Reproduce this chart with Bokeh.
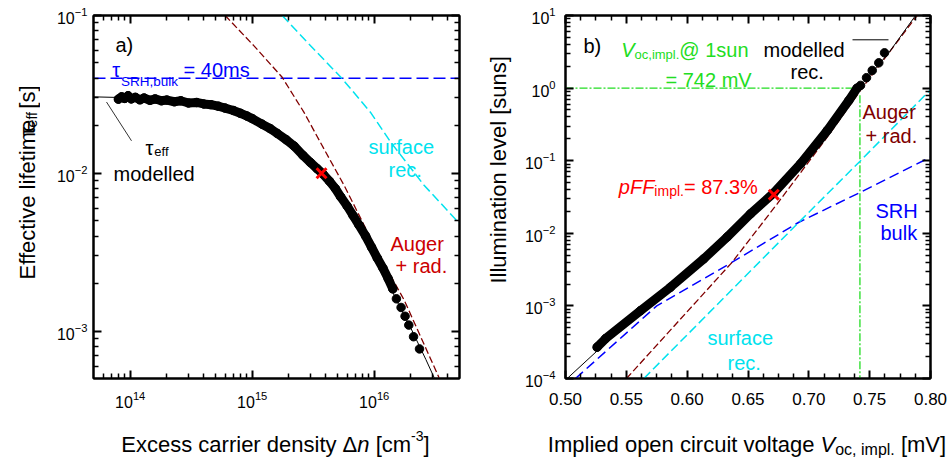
import math
from bokeh.plotting import figure
from bokeh.models import (Range1d, FixedTicker, LogAxis, LinearAxis, Label, Arrow,
                          PrintfTickFormatter, CustomJSTickFormatter)
from bokeh.layouts import row, column
from bokeh.embed import file_html
from bokeh.resources import INLINE

# ---------------- data: panel a) lifetime vs excess carrier density ----------------
dn_meas = [8.0e13, 8.5e13, 9.0e13, 9.6e13, 1.02e14, 1.1e14, 1.2e14, 1.3e14, 1.45e14, 1.6e14,
           1.8e14, 2.0e14, 2.3e14, 2.6e14, 3.0e14, 3.5e14, 4.0e14, 4.6e14, 5.3e14, 6.0e14,
           7.0e14, 8.0e14, 9.0e14, 1.0e15, 1.2e15, 1.4e15, 1.6e15, 1.9e15, 2.2e15, 2.6e15,
           3.0e15, 3.4e15, 3.8e15, 4.3e15, 4.8e15, 5.3e15, 6.0e15, 6.7e15, 7.5e15, 8.5e15,
           9.5e15, 1.06e16, 1.18e16, 1.3e16, 1.42e16, 1.52e16, 1.66e16, 1.79e16, 1.92e16,
           2.1e16, 2.35e16]
tau_meas = [0.0295, 0.0305, 0.0298, 0.0310, 0.0296, 0.0303, 0.0292, 0.0300, 0.0290, 0.0296,
            0.0288, 0.0291, 0.0284, 0.0288, 0.0279, 0.0281, 0.0275, 0.0272, 0.0266, 0.0259,
            0.0250, 0.0240, 0.0231, 0.0222, 0.0205, 0.0192, 0.0179, 0.0163, 0.0149, 0.0130,
            0.0117, 0.0107, 0.0099, 0.0089, 0.0080, 0.0071, 0.0062, 0.0054, 0.0047, 0.0040,
            0.0034, 0.0029, 0.0025, 0.00215, 0.00185, 0.00160, 0.00141, 0.00124, 0.00109,
            0.00092, 0.00077]
dn_dense_max = 1.42e16

dn_mod = [5e13, 1e14, 2e14, 3e14, 6e14, 1e15, 1.6e15, 2.6e15, 3.7e15, 5.3e15, 7.3e15,
          1.06e16, 1.5e16, 2.0e16, 2.65e16, 3.1e16]
tau_mod = [0.0305, 0.0301, 0.0293, 0.0285, 0.0260, 0.0224, 0.0180, 0.0130, 0.0100, 0.0071,
           0.0049, 0.0029, 0.00160, 0.00104, 0.00066, 0.000506]

dn_aug = [6.0e14, 1.03e15, 1.76e15, 2.65e15, 3.99e15, 5.64e15, 8.22e15, 1.13e16, 1.76e16, 3.4e16]
tau_aug = [0.1, 0.0644, 0.0406, 0.0244, 0.01368, 0.00843, 0.00472, 0.00291, 0.00157, 0.000506]

dn_srf = [1.76e15, 2.83e15, 5.47e15, 9.3e15, 1.36e16, 2.55e16, 5e16]
tau_srf = [0.1, 0.0676, 0.0397, 0.0244, 0.0158, 0.00843, 0.0048]

dn_srh = [5e13, 5e16]
tau_srh = [0.04, 0.04]

dn_x, tau_x = 3.7e15, 0.01

dn_range = (5e13, 5e16)
tau_range = (5e-4, 0.1)
dn_major = [1e14, 1e15, 1e16]
tau_major = [1e-3, 1e-2, 1e-1]

# ---------------- data: panel b) illumination vs implied Voc ----------------
v_meas = [0.526, 0.533, 0.5616, 0.5863, 0.6137, 0.6329, 0.652, 0.6712, 0.6932, 0.7151,
          0.7329, 0.7397, 0.7425, 0.7474, 0.7521, 0.7575, 0.7622]
s_meas = [2.7e-4, 3.55e-4, 8.6e-4, 1.81e-3, 4.46e-3, 8.9e-3, 0.0185, 0.036, 0.0906, 0.26,
          0.675, 1.0, 1.09, 1.39, 1.75, 2.23, 3.06]
v_dense_max = 0.7397

v_mod = [0.5014, 0.526, 0.5616, 0.5863, 0.6137, 0.6329, 0.652, 0.6712, 0.6932, 0.7151,
         0.7329, 0.7397, 0.7657, 0.7877]
s_mod = [1e-4, 2.4e-4, 8.3e-4, 1.76e-3, 4.3e-3, 8.6e-3, 0.018, 0.035, 0.088, 0.25,
         0.65, 0.95, 3.06, 10]

v_aug = [0.5501, 0.637, 0.674, 0.7151, 0.7438, 0.789]
s_aug = [1e-4, 4e-3, 0.0255, 0.211, 1.0, 10]

v_srf = [0.5644, 0.6918, 0.7425, 0.8]
s_srf = [1e-4, 0.0142, 0.1, 0.95]

v_srh = [0.5082, 0.575, 0.637, 0.6918, 0.7425, 0.8]
s_srh = [1e-4, 1e-3, 4e-3, 0.0142, 0.0368, 0.112]

v_x, s_x = 0.6712, 0.034
voc_1sun = 0.742
green_vert_top = 0.8

v_range = (0.50, 0.80)
s_range = (1e-4, 10)
v_major = [0.50, 0.55, 0.60, 0.65, 0.70, 0.75, 0.80]
s_major = [1e-4, 1e-3, 1e-2, 1e-1, 1e0, 1e1]

# ---------------- styling ----------------
FONT = "Liberation Sans"
BLUE = "#0000ff"
MAROON = "#800000"
RED_TXT = "#cc0000"
CYAN = "#00e2ee"
GREEN = "#22dd22"
RED = "#ff0000"

W = {' ': 278, '!': 278, '%': 889, '(': 333, ')': 333, '+': 584, ',': 278, '-': 333, '.': 278,
     '=': 584, '@': 1015, '[': 278, ']': 278, 'τ': 440, 'Δ': 668,
     'A': 667, 'B': 667, 'C': 722, 'D': 722, 'E': 667, 'F': 611, 'G': 778, 'H': 722, 'I': 278,
     'J': 500, 'K': 667, 'L': 556, 'M': 833, 'N': 722, 'O': 778, 'P': 667, 'Q': 778, 'R': 722,
     'S': 667, 'T': 611, 'U': 722, 'V': 667, 'W': 944, 'X': 667, 'Y': 667, 'Z': 611,
     'a': 556, 'b': 556, 'c': 500, 'd': 556, 'e': 556, 'f': 278, 'g': 556, 'h': 556, 'i': 222,
     'j': 222, 'k': 500, 'l': 222, 'm': 833, 'n': 556, 'o': 556, 'p': 556, 'q': 556, 'r': 333,
     's': 500, 't': 278, 'u': 556, 'v': 500, 'w': 722, 'x': 500, 'y': 500, 'z': 500}


def tw(s, size):
    return sum(W.get(c, 556) for c in s) / 1000.0 * size


def log_minor(lo, hi):
    out = []
    k = math.floor(math.log10(lo))
    while 10.0 ** k <= hi:
        for m in range(2, 10):
            v = float(m) * 10.0 ** k
            if lo < v < hi:
                out.append(v)
        k += 1
    return out


def style_axis(ax, label_size, standoff, hide=False):
    ax.axis_line_width = 2
    ax.axis_line_color = "black"
    ax.major_tick_in = 8
    ax.major_tick_out = 0
    ax.minor_tick_in = 5
    ax.minor_tick_out = 0
    ax.major_tick_line_width = 2
    ax.minor_tick_line_width = 1.5
    ax.major_tick_line_color = "black"
    ax.minor_tick_line_color = "black"
    ax.major_label_text_font = FONT
    ax.major_label_text_color = "black"
    ax.axis_label = None
    if hide:
        ax.formatter = CustomJSTickFormatter(code="return ''")
        ax.major_label_text_font_size = "8px"
        ax.major_label_standoff = 0
    else:
        ax.major_label_text_font_size = label_size
        ax.major_label_standoff = standoff


def make_fig(w, h, bl, br, bt, bb, xr, yr, xtype, ytype):
    p = figure(width=w, height=h, x_range=Range1d(*xr), y_range=Range1d(*yr),
               x_axis_type=xtype, y_axis_type=ytype, output_backend="svg",
               toolbar_location=None, min_border_left=bl, min_border_right=br,
               min_border_top=bt, min_border_bottom=bb)
    p.grid.visible = False
    p.outline_line_color = "black"
    p.outline_line_width = 2
    p.background_fill_color = "white"
    p.border_fill_color = "white"
    return p


def title_fig(w, h):
    f = figure(width=w, height=h, x_range=Range1d(0, w), y_range=Range1d(h, 0),
               output_backend="svg", toolbar_location=None, min_border=0,
               x_axis_location=None, y_axis_location=None)
    f.grid.visible = False
    f.outline_line_color = None
    f.background_fill_color = "white"
    f.border_fill_color = "white"
    return f


def add_label(p, cx, cy, x, y, text, size, color, style="normal", angle=0.0):
    p.add_layout(Label(x=cx(x), y=cy(y), text=text, text_font=FONT,
                       text_font_size=f"{size}px", text_font_style=style,
                       text_color=color, text_align="left", text_baseline="alphabetic",
                       angle=angle))


def chain(p, cx, cy, x0, y0, pieces, vertical=False):
    """pieces: (text, size, color, style, shift_px). Horizontal: x0 start, y0 baseline.
    Vertical (reading upward): x0 = baseline x, y0 = start (bottom).
    Leading/trailing blanks are not drawn but keep their width."""
    pos = y0 if vertical else x0
    for text, size, color, style, shift in pieces:
        lead = tw(text[:len(text) - len(text.lstrip(' '))], size)
        body = text.strip(' ')
        if vertical:
            add_label(p, cx, cy, x0 + shift, pos - lead, body, size, color, style, math.pi / 2)
            pos -= tw(text, size)
        else:
            add_label(p, cx, cy, pos + lead, y0 + shift, body, size, color, style)
            pos += tw(text, size)


TOP_H = 420          # height of the row holding the two panels
YA_W, YB_W = 40, 45  # widths of the strips holding the y-axis titles

# ================= panel a =================
pa = make_fig(470 - YA_W, TOP_H, 93 - YA_W, 11, 13, TOP_H - 378, dn_range, tau_range, "log", "log")
LX0, LX1, LY0, LY1 = 93, 459, 13, 378


def a_x(px):
    return 10 ** (math.log10(dn_range[0]) + (px - LX0) / (LX1 - LX0) *
                  (math.log10(dn_range[1]) - math.log10(dn_range[0])))


def a_y(py):
    return 10 ** (math.log10(tau_range[1]) - (py - LY0) / (LY1 - LY0) *
                  (math.log10(tau_range[1]) - math.log10(tau_range[0])))


pa.xaxis.ticker = FixedTicker(ticks=dn_major, minor_ticks=log_minor(*dn_range))
pa.yaxis.ticker = FixedTicker(ticks=tau_major, minor_ticks=log_minor(*tau_range))
style_axis(pa.xaxis[0], "16px", 12)
style_axis(pa.yaxis[0], "16px", 6)
top_a = LogAxis(ticker=FixedTicker(ticks=dn_major, minor_ticks=log_minor(*dn_range)))
right_a = LogAxis(ticker=FixedTicker(ticks=tau_major, minor_ticks=log_minor(*tau_range)))
style_axis(top_a, "8px", 0, hide=True)
style_axis(right_a, "8px", 0, hide=True)
pa.add_layout(top_a, "above")
pa.add_layout(right_a, "right")

pa.line(dn_srh, tau_srh, line_color=BLUE, line_width=1.5, line_dash="12 5")
pa.line(dn_srf, tau_srf, line_color=CYAN, line_width=1.5, line_dash="9 4")
pa.line(dn_aug, tau_aug, line_color=MAROON, line_width=1.3, line_dash="7 3")
pa.line(dn_mod, tau_mod, line_color="black", line_width=1)
dense_a = [(d, t) for d, t in zip(dn_meas, tau_meas) if d <= dn_dense_max]
pa.line([d for d, _ in dense_a], [t for _, t in dense_a], line_color="black", line_width=9,
        line_cap="round", line_join="round")
pa.scatter(dn_meas, tau_meas, size=8.5, fill_color="black", line_color="black")
pa.scatter([dn_x], [tau_x], marker="x", size=14, line_color=RED, line_width=3)

add_label(pa, a_x, a_y, 115, 43, "a)", 20, "black")
chain(pa, a_x, a_y, 111.7, 68.3, [("τ", 20, BLUE, "normal", 0),
                                   ("SRH,bulk", 13.5, BLUE, "normal", 11),
                                   (" = 40ms", 20, BLUE, "normal", 0)])
pa.add_layout(Arrow(end=None, x_start=a_x(106), y_start=a_y(100), x_end=a_x(131),
                    y_end=a_y(139), line_color="#333333", line_width=1))
chain(pa, a_x, a_y, 145, 146.7, [("τ", 20, "black", "normal", 0),
                                  ("eff", 13, "black", "normal", 3.5)])
add_label(pa, a_x, a_y, 113, 172.7, "modelled", 20, "black")
add_label(pa, a_x, a_y, 368, 145.7, "surface", 20, CYAN)
add_label(pa, a_x, a_y, 388, 168, "rec.", 20, CYAN)
add_label(pa, a_x, a_y, 390, 242.7, "Auger", 20, RED_TXT)
add_label(pa, a_x, a_y, 395, 265, "+ rad.", 20, RED_TXT)

# ================= panel b =================
pb = make_fig(482 - YB_W, TOP_H, 565 - 470 - YB_W, 22, 15, TOP_H - 378, v_range, s_range,
              "linear", "log")
RX0, RX1, RY0, RY1 = 565, 930, 15, 378


def b_x(px):
    return v_range[0] + (px - RX0) / (RX1 - RX0) * (v_range[1] - v_range[0])


def b_y(py):
    return 10 ** (math.log10(s_range[1]) - (py - RY0) / (RY1 - RY0) *
                  (math.log10(s_range[1]) - math.log10(s_range[0])))


v_minor = [round(v_range[0] + i * 0.0125, 4) for i in range(1, 24) if i % 4 != 0]
pb.xaxis.ticker = FixedTicker(ticks=v_major, minor_ticks=v_minor)
pb.yaxis.ticker = FixedTicker(ticks=s_major, minor_ticks=log_minor(*s_range))
pb.xaxis.formatter = PrintfTickFormatter(format="%.2f")
style_axis(pb.xaxis[0], "17px", 14)
style_axis(pb.yaxis[0], "16px", 10)
top_b = LinearAxis(ticker=FixedTicker(ticks=v_major, minor_ticks=v_minor))
right_b = LogAxis(ticker=FixedTicker(ticks=s_major, minor_ticks=log_minor(*s_range)))
style_axis(top_b, "8px", 0, hide=True)
style_axis(right_b, "8px", 0, hide=True)
pb.add_layout(top_b, "above")
pb.add_layout(right_b, "right")

pb.line([v_range[0], voc_1sun], [1.0, 1.0], line_color=GREEN, line_width=1.3, line_dash="8 2 2 2")
pb.line([voc_1sun, voc_1sun], [green_vert_top, s_range[0]], line_color=GREEN, line_width=1.3,
        line_dash="8 2 2 2")
pb.line(v_srh, s_srh, line_color=BLUE, line_width=1.5, line_dash="10 5")
pb.line(v_srf, s_srf, line_color=CYAN, line_width=1.5, line_dash="9 4")
pb.line(v_aug, s_aug, line_color=MAROON, line_width=1.3, line_dash="7 3")
pb.line(v_mod, s_mod, line_color="black", line_width=1)
dense_b = [(v, s) for v, s in zip(v_meas, s_meas) if v <= v_dense_max]
pb.line([v for v, _ in dense_b], [s for _, s in dense_b], line_color="black", line_width=9,
        line_cap="round", line_join="round")
pb.scatter(v_meas, s_meas, size=8.5, fill_color="black", line_color="black")
pb.scatter([v_x], [s_x], marker="x", size=14, line_color=RED, line_width=3)

add_label(pb, b_x, b_y, 583, 45, "b)", 20, "black")
chain(pb, b_x, b_y, 620.7, 49.3, [("V", 20, GREEN, "italic", 0),
                                   ("oc,impl.", 13, GREEN, "normal", 5),
                                   ("@ 1sun", 20, GREEN, "normal", 0)])
add_label(pb, b_x, b_y, 665, 79.3, "= 742 mV", 20, GREEN)
add_label(pb, b_x, b_y, 763, 49.3, "modelled", 20, "black")
pb.add_layout(Arrow(end=None, x_start=b_x(852), y_start=b_y(39.3), x_end=b_x(888),
                    y_end=b_y(39.3), line_color="black", line_width=1))
add_label(pb, b_x, b_y, 790, 71, "rec.", 20, "black")
add_label(pb, b_x, b_y, 862, 111.7, "Auger", 20, MAROON)
add_label(pb, b_x, b_y, 865, 135, "+ rad.", 20, MAROON)
chain(pb, b_x, b_y, 618.3, 186, [("pFF", 20, RED, "italic", 0),
                                  ("impl.", 14, RED, "normal", 4.7),
                                  ("= 87.3%", 20, RED, "normal", 0)])
add_label(pb, b_x, b_y, 875, 210, "SRH", 20, BLUE)
add_label(pb, b_x, b_y, 880, 232, "bulk", 20, BLUE)
add_label(pb, b_x, b_y, 707, 337, "surface", 20, CYAN)
add_label(pb, b_x, b_y, 727, 362, "rec.", 20, CYAN)

# ================= axis titles (separate strips, page-pixel coordinates) =================
ya = title_fig(YA_W, TOP_H)
yb = title_fig(YB_W, TOP_H)
xa = title_fig(470, 459 - TOP_H)
xb = title_fig(482, 459 - TOP_H)

ya_pieces = [("Effective lifetime ", 22, "black", "normal", 0),
             ("τ", 22, "black", "normal", 0),
             ("eff", 14, "black", "normal", 5),
             (" [s]", 22, "black", "normal", 0)]
tot = sum(tw(t, s) for t, s, *_ in ya_pieces)
chain(ya, lambda px: px, lambda py: py, 26.7, 195 + tot / 2, ya_pieces, vertical=True)

yb_pieces = [("Illumination level [suns]", 22, "black", "normal", 0)]
tot = sum(tw(t, s) for t, s, *_ in yb_pieces)
chain(yb, lambda px: px - 470, lambda py: py, 498.3, 196.5 + tot / 2, yb_pieces, vertical=True)

xa_pieces = [("Excess carrier density ", 22, "black", "normal", 0),
             ("Δ", 22, "black", "normal", 0),
             ("n", 22, "black", "italic", 0),
             (" [cm", 22, "black", "normal", 0),
             ("-3", 14, "black", "normal", -9),
             ("]", 22, "black", "normal", 0)]
tot = sum(tw(t, s) for t, s, *_ in xa_pieces)
chain(xa, lambda px: px, lambda py: py - TOP_H, 275 - tot / 2, 444, xa_pieces)

xb_pieces = [("Implied open circuit voltage ", 22, "black", "normal", 0),
             ("V", 22, "black", "italic", 0),
             ("oc, impl.", 16, "black", "normal", 5),
             (" [mV]", 22, "black", "normal", 0)]
tot = sum(tw(t, s) for t, s, *_ in xb_pieces)
chain(xb, lambda px: px - 470, lambda py: py - TOP_H, 746.5 - tot / 2, 444, xb_pieces)

layout = column(row(ya, pa, yb, pb), row(xa, xb))
open("out.html", "w").write(file_html(layout, INLINE))
